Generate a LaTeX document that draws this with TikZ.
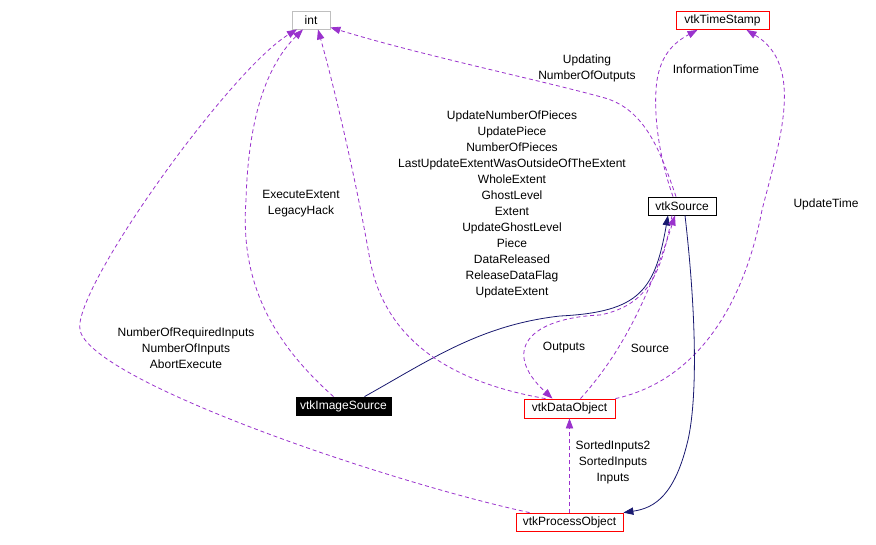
\documentclass[tikz,border=0pt]{standalone}
\usepackage{fontspec}
\setmainfont{Liberation Sans}
\usetikzlibrary{arrows.meta,calc}
\definecolor{purp}{HTML}{9A32CD}
\definecolor{navyc}{HTML}{191970}
\definecolor{grayb}{HTML}{BFBFBF}
\begin{document}
\begin{tikzpicture}[x=0.75pt,y=-0.75pt,
  cls/.style={draw, rectangle, inner sep=0pt, minimum height=13.5pt, line width=0.6pt,
    font=\fontsize{9}{12}\selectfont},
  wd/.style={minimum width=#1*0.75pt},
  redbox/.style={cls, draw=red},
  lbl/.style={align=center, inner sep=0pt, font=\fontsize{9}{12}\selectfont},
  dep/.style={draw=purp, line width=0.6pt, dash pattern=on 3pt off 2.2pt,
    -{Triangle[length=7.5pt,width=5.5pt]}},
  inh/.style={draw=navyc, line width=0.6pt, -{Triangle[length=7.5pt,width=5.5pt]}}]
\useasboundingbox (0,0) rectangle (876,544);
\fill[white] (0,0) rectangle (876,544);

% nodes
\node[cls, draw=grayb, wd=38] (int) at (311,20) {int};
\node[redbox, wd=93] (vtkTimeStamp) at (722.5,20.5) {vtkTimeStamp};
\node[cls, draw=black, wd=68] (vtkSource) at (682,206) {vtkSource};
\node[cls, draw=black, fill=black, text=white, wd=95] (vtkImageSource) at (343.5,406) {vtkImageSource};
\node[redbox, wd=91, minimum height=14.25pt] (vtkDataObject) at (569.5,408.5) {vtkDataObject};
\node[redbox, wd=107] (vtkProcessObject) at (569.5,522) {vtkProcessObject};

% vtkSource -> int
\draw[dep] ($(vtkSource.north)+(-6,0)$) .. controls (660,150) and (645,110) .. (605,98)
  .. controls (540,80) and (420,55) .. ($(int.south east)+(0,-2)$);
% vtkSource -> vtkTimeStamp
\draw[dep] ($(vtkSource.north)+(-9,0)$) .. controls (660,160) and (654,120) .. (656,90)
  .. controls (658,55) and (675,42) .. ($(vtkTimeStamp.south)+(-25,0)$);
% vtkDataObject -> vtkTimeStamp
\draw[dep] (vtkDataObject.north east) .. controls (700,380) and (745,300) .. (762,210)
  .. controls (780,140) and (805,65) .. ($(vtkTimeStamp.south)+(24,0)$);
% vtkImageSource -> int
\draw[dep] ($(vtkImageSource.north)+(-10,0)$) .. controls (270,340) and (240,280) .. (246,200)
  .. controls (248,130) and (262,70) .. ($(int.south)+(-8,0)$);
% vtkImageSource -> vtkSource (inheritance)
\draw[inh] ($(vtkImageSource.north)+(21,0)$) .. controls (430,360) and (480,325) .. (560,316)
  .. controls (640,312) and (655,290) .. ($(vtkSource.south)+(-14,0)$);
% vtkDataObject -> int
\draw[dep] ($(vtkDataObject.north)+(-24,0)$) .. controls (450,382) and (385,340) .. (370,260)
  .. controls (356,180) and (335,90) .. ($(int.south)+(7,0)$);
% vtkSource -> vtkDataObject (Outputs)
\draw[dep] ($(vtkSource.south)+(-10,0)$) .. controls (662,270) and (650,305) .. (600,315)
  .. controls (530,318) and (500,350) .. ($(vtkDataObject.north)+(-17,0)$);
% vtkDataObject -> vtkSource (Source)
\draw[dep] ($(vtkDataObject.north)+(11,0)$) .. controls (615,360) and (645,310) .. ($(vtkSource.south)+(-7,0)$);
% vtkSource -> vtkProcessObject (inheritance)
\draw[inh] ($(vtkSource.south)+(3,0)$) .. controls (697,320) and (697,400) .. (688,440)
  .. controls (675,495) and (655,508) .. (vtkProcessObject.north east);
% vtkProcessObject -> int
\draw[dep] ($(vtkProcessObject.north)+(-40,0)$) .. controls (380,480) and (90,380) .. (80,330)
  .. controls (72,290) and (230,70) .. ($(int.south)+(-14,0)$);
% vtkProcessObject -> vtkDataObject
\draw[dep] (vtkProcessObject.north) -- (vtkDataObject.south);

% labels
\node[lbl] (l1) at (587,68) {Updating\\NumberOfOutputs};
\node[lbl] (l2) at (716,69) {InformationTime};
\node[lbl] (l3) at (826,204) {UpdateTime};
\node[lbl] (l4) at (301,204) {ExecuteExtent\\LegacyHack};
\node[lbl] (l5) at (512,204) {UpdateNumberOfPieces\\UpdatePiece\\NumberOfPieces\\LastUpdateExtentWasOutsideOfTheExtent\\WholeExtent\\GhostLevel\\Extent\\UpdateGhostLevel\\Piece\\DataReleased\\ReleaseDataFlag\\UpdateExtent};
\node[lbl] (l6) at (186,348) {NumberOfRequiredInputs\\NumberOfInputs\\AbortExecute};
\node[lbl] (l7) at (564,348) {Outputs};
\node[lbl] (l8) at (650,348) {Source};
\node[lbl] (l9) at (613,462) {SortedInputs2\\SortedInputs\\Inputs};
\end{tikzpicture}
\end{document}
